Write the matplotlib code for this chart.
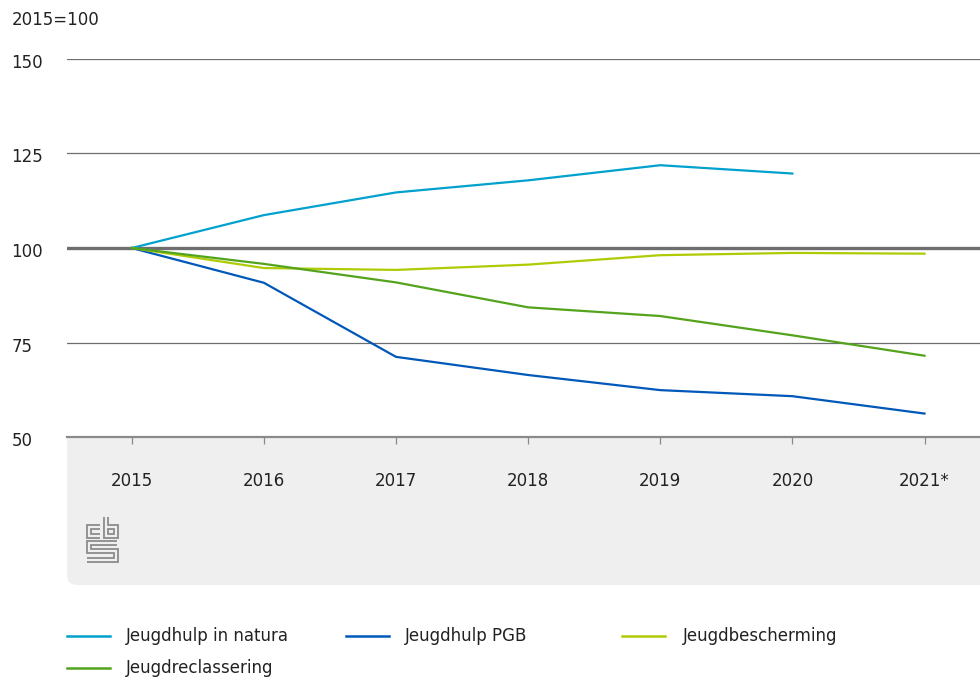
import matplotlib
matplotlib.use('Agg')
import matplotlib.pyplot as plt
from matplotlib.patches import FancyBboxPatch
from matplotlib.lines import Line2D
from matplotlib.transforms import Affine2D, ScaledTranslation

# Data (2015=100)
years = [2015, 2016, 2017, 2018, 2019, 2020, 2021]
year_labels = ['2015', '2016', '2017', '2018', '2019', '2020', '2021*']
natura = [100, 108.7, 114.7, 117.9, 121.9, 119.7, None]
pgb = [100, 90.8, 71.2, 66.4, 62.4, 60.8, 56.2]
bescherming = [100, 94.7, 94.2, 95.6, 98.1, 98.7, 98.5]
reclassering = [100, 95.8, 90.9, 84.3, 82.0, 76.9, 71.5]

series_names = ['Jeugdhulp in natura', 'Jeugdhulp PGB', 'Jeugdbescherming', 'Jeugdreclassering']
series_values = [natura, pgb, bescherming, reclassering]
colors = ['#00a1cd', '#0058b8', '#afcb05', '#53a31d']

W, H = 980, 679
fig = plt.figure(figsize=(W / 100, H / 100), dpi=100)
plt.rcParams['font.family'] = ['DejaVu Sans']
txt_color = '#222222'

ax = fig.add_axes([67 / W, 1 - 437 / H, (W - 67) / W, (437 - 59) / H])
ax.set_xlim(2014.51, 2021.42)
ax.set_ylim(50, 150)

for s in ax.spines.values():
    s.set_visible(False)

# grid lines
for v in [75, 125, 150]:
    ax.axhline(v, color='#6e6e6e', lw=0.9, zorder=1)
ax.axhline(100, color='#6e6e6e', lw=2.4, zorder=1)
ax.axhline(50, color='#8a8a8a', lw=1.6, zorder=1, clip_on=False)

for name, vals, c in zip(series_names, series_values, colors):
    xs = [y for y, v in zip(years, vals) if v is not None]
    ys = [v for v in vals if v is not None]
    ax.plot(xs, ys, color=c, lw=1.6, zorder=3, solid_joinstyle='round')

ax.set_yticks([50, 75, 100, 125, 150])
ax.set_yticklabels(['50', '75', '100', '125', '150'])
ax.tick_params(axis='y', length=0, pad=40, labelsize=12, labelcolor=txt_color)
shift = ScaledTranslation(0, -2 / 100, fig.dpi_scale_trans)
for lab in ax.get_yticklabels():
    lab.set_horizontalalignment('left')
    lab.set_transform(lab.get_transform() + shift)

ax.set_xticks(years)
ax.set_xticklabels(year_labels)
ax.tick_params(axis='x', length=5, width=0.9, color='#8a8a8a', pad=20.5,
               labelsize=12, labelcolor=txt_color)

fig.text(12 / W, 1 - 20 / H, '2015=100', fontsize=12, color=txt_color,
         ha='left', va='center')

# grey band under the x axis
band = FancyBboxPatch((67, 679 - 585), 1000, 200,
                      boxstyle='round,pad=0,rounding_size=10',
                      transform=None, facecolor='#efefef', edgecolor='none',
                      zorder=-1)
fig.patches.append(band)

# cbs logo (rough)
flip = Affine2D().scale(1, -1).translate(0, H)
band_col = '#efefef'
logo_paths = [
    ([100, 89, 89, 100], [527, 527, 536, 536]),
    ([106, 106, 116, 116, 106], [517, 536, 536, 527, 527]),
    ([117, 89, 89, 116, 116, 87], [543, 543, 551, 551, 560, 560]),
]
for px, py in logo_paths:
    fig.lines.append(Line2D(px, py, transform=flip, color='#8c8c8c', lw=4.2,
                            solid_joinstyle='miter', solid_capstyle='butt'))
    fig.lines.append(Line2D(px, py, transform=flip, color=band_col, lw=1.6,
                            solid_joinstyle='miter', solid_capstyle='butt'))

# legend
hx = [67, 346, 622]
tx = [126, 405, 683]
ry = [636, 668]
for i, (name, c) in enumerate(zip(series_names, colors)):
    r, col = divmod(i, 3)
    y = 1 - ry[r] / H
    fig.lines.append(Line2D([hx[col] / W, (hx[col] + 43) / W], [y, y],
                            transform=fig.transFigure, color=c, lw=1.8))
    fig.text(tx[col] / W, y, name, fontsize=12, color=txt_color,
             ha='left', va='center')

fig.savefig('out.png', dpi=100)
